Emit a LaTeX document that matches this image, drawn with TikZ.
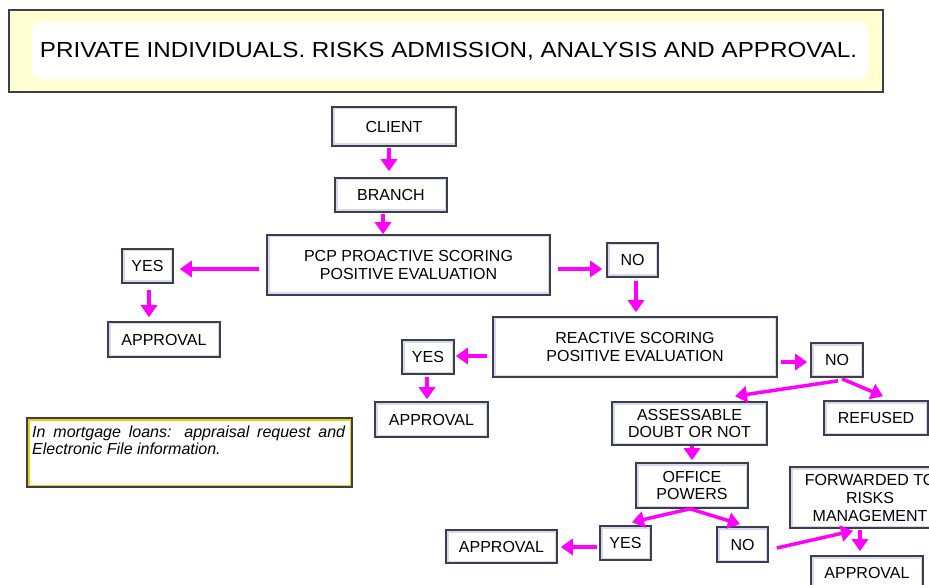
\documentclass[tikz,border=0pt]{standalone}
\usepackage{graphicx}
\usepackage{fontspec}
\setmainfont{Liberation Sans}
\usetikzlibrary{arrows.meta,calc}
\definecolor{mag}{HTML}{FF00FF}
\definecolor{boxline}{HTML}{3E3E48}
\definecolor{lav}{HTML}{D6D6F6}
\definecolor{paleyel}{HTML}{FFFFD2}
\definecolor{gold}{HTML}{F2CC10}
\begin{document}
\begin{tikzpicture}[x=1pt,y=-1pt,
  box/.style={draw=boxline, line width=1.6pt, fill=white, inner sep=0pt, align=center,
    font=\fontsize{16}{17.5}\selectfont,
    path picture={\draw[lav, line width=5pt] (path picture bounding box.south west) rectangle (path picture bounding box.north east);}},
  arr/.style={draw=mag, line width=3.5pt, -{Triangle[length=12pt,width=16pt]}}
]
\useasboundingbox (0,0) rectangle (929,585);
\clip (0,0) rectangle (929,585);
\fill[white] (0,0) rectangle (929,585);

% title
\node[draw=boxline, line width=1.8pt, fill=paleyel, minimum width=874pt, minimum height=82pt, inner sep=0pt] (titlebox) at (446,51) {};
\fill[white, rounded corners=10pt] (32,22) rectangle (868,79);
\node[inner sep=0pt] (title) at (448.5,51) {\scalebox{1.11}[1]{\fontsize{21.8}{24}\selectfont PRIVATE INDIVIDUALS. RISKS ADMISSION, ANALYSIS AND APPROVAL.}};

% boxes
\node[box, minimum width=124pt, minimum height=39pt] (client) at (394,126.5) {CLIENT};
\node[box, minimum width=112pt, minimum height=34pt] (branch) at (391,195) {BRANCH};
\node[box, minimum width=283pt, minimum height=60pt] (pcp) at (408.5,265) {PCP PROACTIVE SCORING\\POSITIVE EVALUATION};
\node[box, minimum width=51pt, minimum height=34pt] (yes1) at (147.5,266) {YES};
\node[box, minimum width=112pt, minimum height=35pt] (appr1) at (164,339.5) {APPROVAL};
\node[box, minimum width=51pt, minimum height=34pt] (no1) at (632.5,260) {NO};
\node[box, minimum width=284pt, minimum height=60pt] (reactive) at (635,347) {REACTIVE SCORING\\POSITIVE EVALUATION};
\node[box, minimum width=52pt, minimum height=34pt] (yes2) at (428,357) {YES};
\node[box, minimum width=113pt, minimum height=35pt] (appr2) at (431.5,419.5) {APPROVAL};
\node[box, minimum width=52pt, minimum height=34pt] (no2) at (837,360) {NO};
\node[box, minimum width=155pt, minimum height=43pt] (assess) at (689.5,423.5) {ASSESSABLE\\DOUBT OR NOT};
\node[box, minimum width=104pt, minimum height=34pt] (refused) at (876,418) {REFUSED};
\node[box, minimum width=112pt, minimum height=45pt] (office) at (692,485.5) {OFFICE\\POWERS};
\node[box, minimum width=51pt, minimum height=34pt] (yes3) at (625.5,543) {YES};
\node[box, minimum width=51pt, minimum height=35pt] (no3) at (742.5,544.5) {NO};
\node[box, minimum width=111pt, minimum height=33pt] (appr3) at (501.5,546.5) {APPROVAL};
\node[box, minimum width=160pt, minimum height=61pt, font=\fontsize{16}{18}\selectfont] (fwd) at (870,497.5) {FORWARDED TO\\RISKS\\MANAGEMENT};
\node[box, minimum width=112pt, minimum height=34pt] (appr4) at (867,573) {APPROVAL};

% note
\node[draw=boxline, line width=1.6pt, fill=white, minimum width=325pt, minimum height=69pt, inner sep=0pt,
  path picture={\draw[gold, line width=5pt] (path picture bounding box.south west) rectangle (path picture bounding box.north east);}] (note) at (189.5,452.5) {};
\node[anchor=north west, inner sep=0pt, text width=313pt, align=justify,
  font=\itshape\fontsize{16}{17}\selectfont] (notetext) at (32,426) {\hyphenpenalty10000\relax In mortgage loans: appraisal request and Electronic File information.};

% arrows
\draw[arr] ($(client.south)+(-5,1)$) -- ($(branch.north)+(-2,-6)$);
\draw[arr] ($(branch.south)+(-8,1)$) -- ($(pcp.north)+(-25.5,0)$);
\draw[arr] ($(pcp.west)+(-7,4)$) -- ($(yes1.east)+(6,3)$);
\draw[arr] ($(yes1.south)+(1.5,6)$) -- ($(appr1.north)+(-15,-4)$);
\draw[arr] ($(pcp.east)+(7,4)$) -- ($(no1.west)+(-4,9)$);
\draw[arr] ($(no1.south)+(3.5,3)$) -- ($(reactive.north)+(1,-4)$);
\draw[arr] ($(reactive.west)+(-5,9)$) -- ($(yes2.east)+(1,-1)$);
\draw[arr] ($(yes2.south)+(-1,2)$) -- ($(appr2.north)+(-4.5,-2)$);
\draw[arr] ($(reactive.east)+(3,15)$) -- ($(no2.west)+(-3,2)$);
\draw[arr] ($(no2.south)+(1,3)$) -- ($(assess.north)+(45.5,-5)$);
\draw[arr] ($(no2.south)+(5,1)$) -- ($(refused.north)+(7,-4)$);
\draw[arr] ($(assess.south)+(2.5,0)$) -- ($(office.north)+(0,-2)$);
\draw[arr] ($(office.south)+(-2,0)$) -- ($(yes3.north)+(6.5,-3)$);
\draw[arr] ($(office.south)+(-2,0)$) -- ($(no3.north)+(-2.5,-2)$);
\draw[arr] ($(yes3.west)+(-2,4)$) -- ($(appr3.east)+(3,0.5)$);
\draw[arr] ($(no3.east)+(8,3.5)$) -- ($(fwd.south)+(-17,2)$);
\draw[arr] ($(fwd.south)+(-10,1)$) -- ($(appr4.north)+(-7,-4)$);
\end{tikzpicture}
\end{document}
